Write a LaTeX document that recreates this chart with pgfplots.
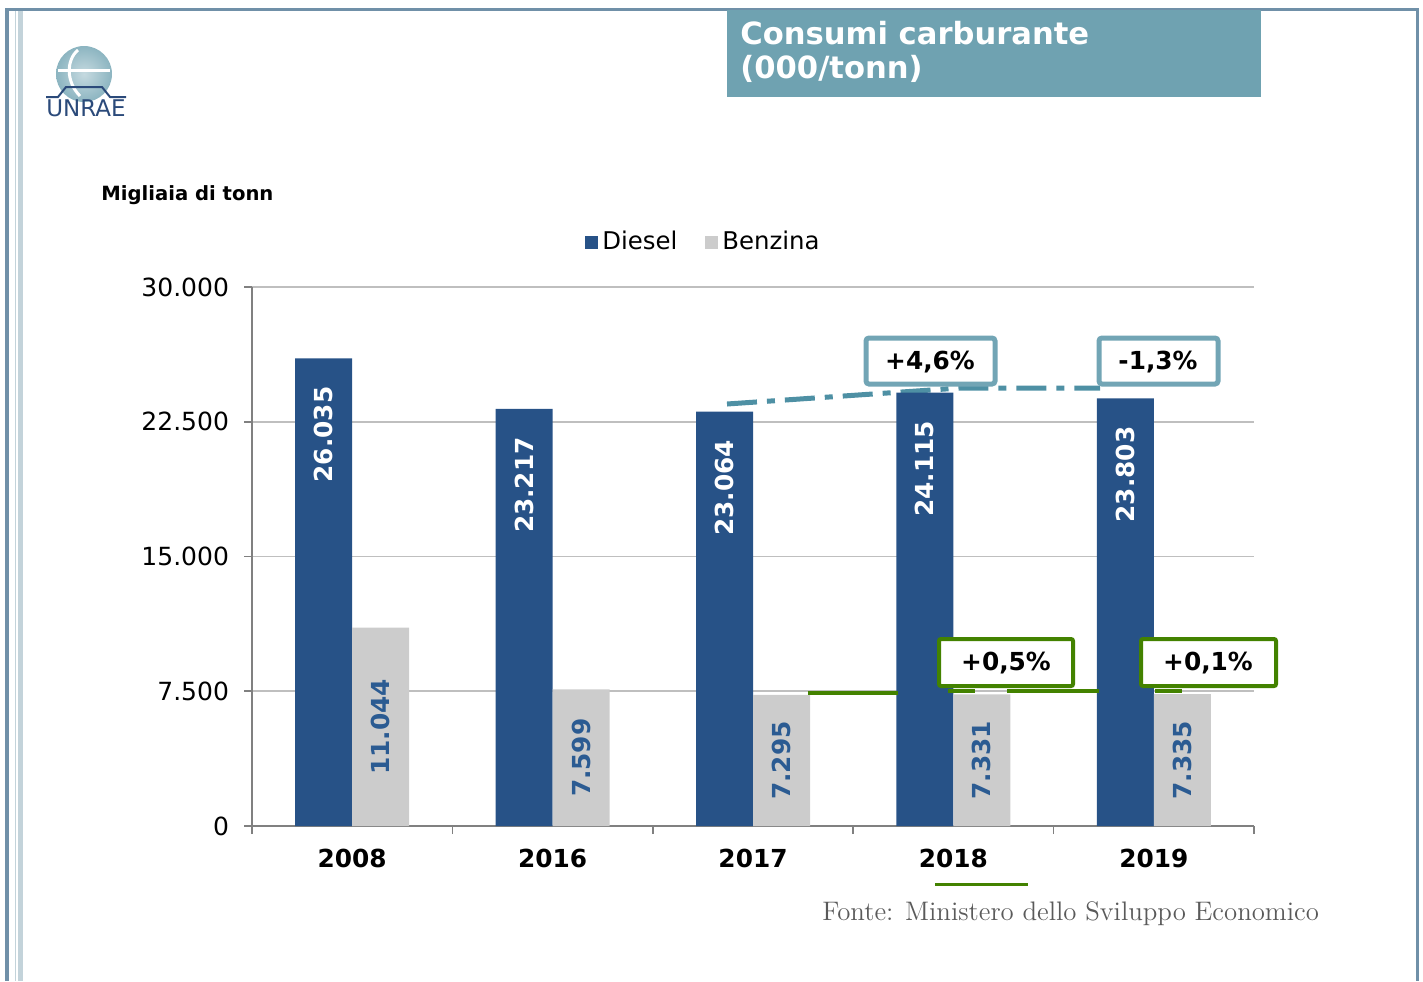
\documentclass[border=0pt]{standalone}
\usepackage{fontspec}
\setmainfont{DejaVu Sans}
\newfontfamily\lmr{Latin Modern Roman}
\usepackage{pgfplots}
\pgfplotsset{compat=1.18}
\definecolor{diesel}{HTML}{275287}
\definecolor{benz}{HTML}{CCCCCC}
\definecolor{lblblue}{HTML}{2B5B92}
\definecolor{titleteal}{HTML}{6FA2B1}
\definecolor{boxteal}{HTML}{72A5B5}
\definecolor{lineteal}{HTML}{4E90A4}
\definecolor{grn}{HTML}{438200}
\definecolor{framedark}{HTML}{7090A8}
\definecolor{framelight}{HTML}{C3D3DA}
\definecolor{logoblue}{HTML}{2B4A7A}
\definecolor{srcgray}{HTML}{5A5A5A}

\pgfplotstableread{
x diesel benzina
0 26035 11044
1 23217 7599
2 23064 7295
3 24115 7331
4 23803 7335
}\datatab

\begin{document}
\begin{tikzpicture}
\begin{scope}[x=0.5pt,y=-0.5pt]
\path[use as bounding box] (0,0) rectangle (1423,981);
% frame
\fill[framedark] (5,9) rectangle (8.5,981);
\fill[framelight] (14.5,9) rectangle (16,981);
\fill[framelight] (18,9) rectangle (23,981);
\fill[framedark] (5,8) rectangle (1419,10.5);
\fill[framedark] (1416,8) rectangle (1419,981);
% logo
\shade[inner color=white!60!titleteal, outer color=titleteal!80] (84,74) circle (28);
\draw[white, line width=1.5pt] (58,70) -- (110,70);
\draw[white, line width=1.5pt] (78,50) .. controls (66,60) and (66,82) .. (80,96);
\draw[logoblue, line width=1pt] (46,97) -- (58,97) -- (66,87) -- (102,87) -- (110,97) -- (126,97);
\node[anchor=base, text=logoblue, font=\fontsize{11.5}{12}\selectfont, inner sep=0pt] at (86,116) {UNRAE};
% title
\fill[titleteal] (727,10) rectangle (1261,97);
\node[anchor=base west, inner sep=0pt, text=white, font=\bfseries\fontsize{15.3}{18}\selectfont] at (740,44) {Consumi carburante};
\node[anchor=base west, inner sep=0pt, text=white, font=\bfseries\fontsize{15.3}{18}\selectfont] at (740,78) {(000/tonn)};
% unit label
\node[anchor=base west, inner sep=0pt, font=\bfseries\fontsize{9.8}{12}\selectfont] at (101,200) {Migliaia di tonn};
% trend line behind bars
\draw[lineteal, line width=2.5pt, dash pattern=on 15pt off 5pt on 4pt off 5pt] (727,404) -- (960,388) -- (1100,388);
\end{scope}

\begin{axis}[
  at={(126pt,-413pt)}, anchor=south west,
  scale only axis, width=501pt, height=269.5pt,
  xmin=-0.5, xmax=4.5, ymin=0, ymax=30000,
  ybar, bar width=28.5pt,
  axis x line*=bottom, axis y line*=left,
  axis line style={draw=gray, line width=0.8pt, -},
  xtick={-0.5,0.5,1.5,2.5,3.5,4.5}, xticklabels={},
  extra x ticks={0,1,2,3,4},
  extra x tick labels={2008,2016,2017,2018,2019},
  extra x tick style={major tick length=0pt, grid=none,
    tick label style={font=\bfseries\fontsize{12.4}{14}\selectfont, yshift=-8pt}},
  ytick={0,7500,15000,22500,30000},
  scaled y ticks=false,
  /pgf/number format/1000 sep={.},
  /pgf/number format/assume math mode=true,
  ymajorgrids, grid style={draw=gray!50, line width=0.8pt},
  tick align=outside, major tick length=4pt,
  tick style={draw=gray, line width=0.8pt},
  xtick pos=left, ytick pos=left,
  yticklabel style={font=\fontsize{12.5}{14}\selectfont, xshift=-4pt},
  legend style={at={(0.4515,1.0835)}, anchor=center, draw=none, fill=none,
    legend columns=2, font=\fontsize{12.2}{14}\selectfont,
    /tikz/every even column/.append style={column sep=12pt}},
  legend image code/.code={\fill[#1, draw=none] (-2pt,-3.25pt) rectangle (4.5pt,3.25pt);},
]
\addplot[fill=diesel, draw=none, bar shift=-14.25pt,
  nodes near coords,
  every node near coord/.append style={rotate=90, anchor=east, inner xsep=14pt,
    text=white, font=\bfseries\fontsize{12.4}{14}\selectfont}]
  table[x=x, y=diesel] {\datatab};
\addlegendentry{Diesel}
\addplot[fill=benz, draw=none, bar shift=14.25pt,
  nodes near coords,
  visualization depends on={y \as \rawy},
  every node near coord/.append style={shift={(axis direction cs:0,-\rawy/2)}, rotate=90, anchor=center,
    text=lblblue, font=\bfseries\fontsize{12.4}{14}\selectfont}]
  table[x=x, y=benzina] {\datatab};
\addlegendentry{Benzina}
\end{axis}

\begin{scope}[x=0.5pt,y=-0.5pt]
% green trend line (visible pieces)
\draw[grn, line width=1.6pt] (808,693) -- (898,693);
\draw[grn, line width=1.6pt] (948,691) -- (975,691);
\draw[grn, line width=1.6pt] (1007,691) -- (1099,691);
\draw[grn, line width=1.6pt] (1155,691) -- (1182,691);
% teal boxes
\draw[boxteal, line width=2.5pt, fill=white, rounded corners=1.5pt] (866,338) rectangle (995,384);
\node[font=\bfseries\fontsize{12.4}{14}\selectfont] at (930,362) {+4,6\%};
\draw[boxteal, line width=2.5pt, fill=white, rounded corners=1.5pt] (1099,338) rectangle (1218,384);
\node[font=\bfseries\fontsize{12.4}{14}\selectfont] at (1158,362) {-1,3\%};
% green boxes
\draw[grn, line width=2pt, fill=white, rounded corners=1pt] (939,639) rectangle (1073,686);
\node[font=\bfseries\fontsize{12.4}{14}\selectfont] at (1006,663) {+0,5\%};
\draw[grn, line width=2pt, fill=white, rounded corners=1pt] (1141,639) rectangle (1276,686);
\node[font=\bfseries\fontsize{12.4}{14}\selectfont] at (1208,663) {+0,1\%};
\draw[grn, line width=1.5pt] (935,884) -- (1028,884);
% source
\node[anchor=base west, inner sep=0pt, text=srcgray, font=\lmr\fontsize{13.4}{15}\selectfont] at (822,920) {Fonte: Ministero dello Sviluppo Economico};
\end{scope}
\end{tikzpicture}
\end{document}
